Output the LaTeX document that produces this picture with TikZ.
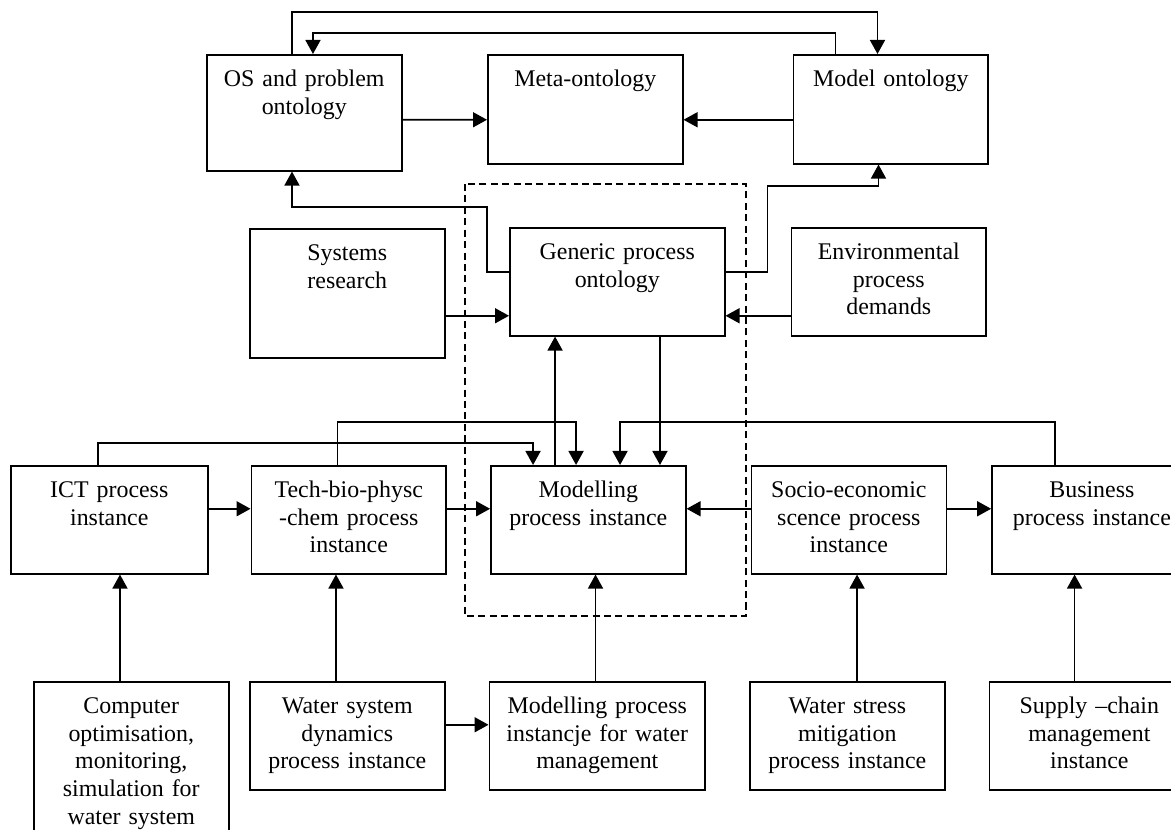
\documentclass[tikz,border=0pt]{standalone}
\usepackage{fontspec}
\setmainfont{Liberation Serif}
\usepackage{tikz}
\usetikzlibrary{positioning, arrows.meta}

\begin{document}
\begin{tikzpicture}[->,>={Triangle[length=0.28cm,width=0.3cm]},x=0.02cm,y=-0.02cm,line width=0.9pt]
        \tikzstyle{box}=[draw,-,inner sep=0pt,align=center,minimum width=3.9cm,text width=3.8cm,
                         text height=0.64cm,text depth=1.52cm,font=\fontsize{13.6}{15.7}\selectfont]
        \useasboundingbox (0,0) rectangle (1171,830);

        % ontologies
        \node[box,anchor=north west,text depth=1.68cm] (os)   at (206,54) {OS and problem\\ontology};
        \node[box,anchor=north west,text depth=1.54cm] (meta) at (487,54) {Meta-ontology};
        \node[box,text depth=1.54cm] (model) [right=2.18cm of meta] {Model ontology};

        \node[box,anchor=north west,text depth=1.94cm] (sys) at (249,228) {Systems\\research};
        \node[box,anchor=north west,minimum width=4.3cm,text width=4.2cm] (gen) at (509,227) {Generic process\\ontology};
        \node[box] (env) [right=1.3cm of gen] {Environmental\\process\\demands};

        % process instances
        \node[box,anchor=north west,minimum width=3.94cm] (ict) at (10,465) {ICT process\\instance};
        \node[box] (tech)  [right=0.84cm of ict]  {Tech-bio-physc\\-chem process\\instance};
        \node[box] (mod)   [right=0.86cm of tech] {Modelling\\process instance};
        \node[box] (socio) [right=1.28cm of mod]  {Socio-economic\\scence process\\instance};
        \node[box,minimum width=4cm] (bus) [right=0.88cm of socio] {Business\\process instance};

        \node[box,anchor=north west,text depth=2.76cm] (comp) at (33,681) {Computer\\optimisation,\\monitoring,\\simulation for\\water system};
        \node[box,anchor=north west] (wsys) at (249,681) {Water system\\dynamics\\process instance};
        \node[box,minimum width=4.32cm,text width=4.2cm] (mwat) [right=0.86cm of wsys] {Modelling process\\instancje for water\\management};
        \node[box] (wstr)   [right=0.86cm of mwat] {Water stress\\mitigation\\process instance};
        \node[box,minimum width=4cm] (supply) [right=0.86cm of wstr] {Supply –chain\\management\\instance};

        \draw[-,line width=0.7pt,dash pattern=on 4pt off 2.5pt] (465,184) rectangle (746,616);

        % top loop
        \draw ([xshift=1.72cm]os.north west) -- ++(0,0.84cm) -| ([xshift=1.7cm]model.north west);
        \draw ([xshift=0.86cm]model.north west) -- ++(0,0.42cm) -| ([xshift=2.14cm]os.north west);
        \draw ([yshift=-0.14cm]os.east) -- ([yshift=-0.21cm]meta.west);
        \draw ([yshift=-0.21cm]model.west) -- ([yshift=-0.21cm]meta.east);

        % generic ontology
        \draw ([yshift=0.2cm]gen.west) -- ++(-0.44cm,0) -- ++(0,1.3cm) -| ([xshift=1.72cm]os.south west);
        \draw ([yshift=0.2cm]gen.east) -- ++(0.84cm,0) -- ++(0,1.72cm) -| ([xshift=1.72cm]model.south west);
        \draw ([yshift=-0.45cm]sys.east) coordinate (s1) -- (s1 -| gen.west);
        \draw ([yshift=-0.68cm]env.west) coordinate (e1) -- (e1 -| gen.east);
        \draw ([xshift=1.3cm]mod.north west) coordinate (m1) -- (m1 |- gen.south);
        \draw ([xshift=3.02cm]gen.south west) coordinate (g1) -- (g1 |- mod.north);

        % into modelling
        \draw ([xshift=1.76cm]ict.north west) -- ++(0,0.44cm) -| ([xshift=0.86cm]mod.north west);
        \draw ([xshift=1.74cm]tech.north west) -- ++(0,0.86cm) -| ([xshift=1.72cm]mod.north west);
        \draw ([xshift=1.28cm]bus.north west) -- ++(0,0.86cm) -| ([xshift=2.6cm]mod.north west);

        \draw ([yshift=0.22cm]ict.east) -- ([yshift=0.22cm]tech.west);
        \draw ([yshift=0.22cm]tech.east) -- ([yshift=0.22cm]mod.west);
        \draw ([yshift=0.22cm]socio.west) -- ([yshift=0.22cm]mod.east);
        \draw ([yshift=0.22cm]socio.east) -- ([yshift=0.22cm]bus.west);

        % bottom row
        \draw ([xshift=1.74cm]comp.north west) coordinate (b1) -- (b1 |- ict.south);
        \draw ([xshift=1.74cm]wsys.north west) coordinate (b2) -- (b2 |- tech.south);
        \draw ([xshift=2.14cm]mwat.north west) coordinate (b3) -- (b3 |- mod.south);
        \draw ([xshift=2.16cm]wstr.north west) coordinate (b4) -- (b4 |- socio.south);
        \draw ([xshift=1.72cm]supply.north west) coordinate (b5) -- (b5 |- bus.south);
        \draw ([yshift=0.22cm]wsys.east) -- ([yshift=0.22cm]mwat.west);
    \end{tikzpicture}
\end{document}
